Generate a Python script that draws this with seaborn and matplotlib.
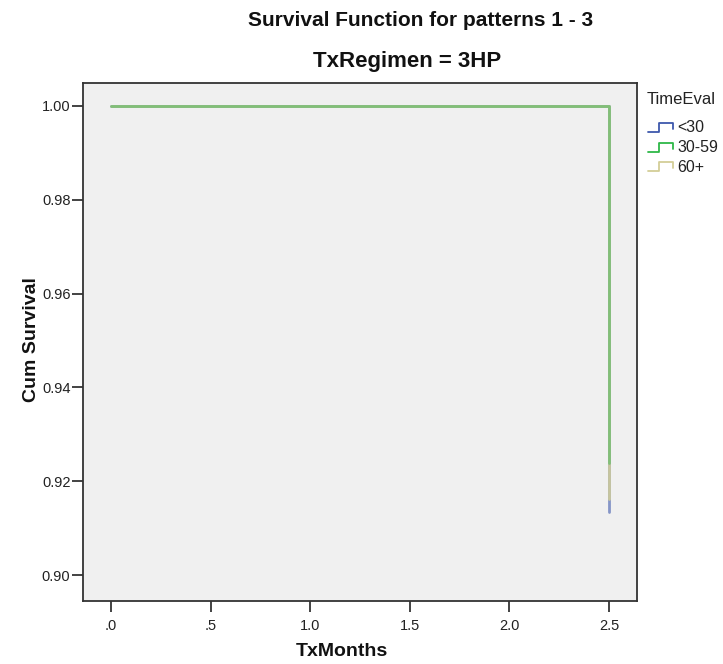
import numpy as np
import pandas as pd
import seaborn as sns
import matplotlib
matplotlib.use("Agg")
import matplotlib.pyplot as plt
from matplotlib.lines import Line2D

# Kaplan-Meier step data per TimeEval group
groups = ["<30", "30-59", "60+"]
start_time = 0.0
event_times = [2.5, 2.5, 2.5]
final_survival = [0.9134, 0.9239, 0.9162]
colors = ["#3E58AC", "#2EB848", "#D3CE97"]
line_alpha = {"<30": 0.6, "30-59": 0.45, "60+": 0.85}
draw_order = ["<30", "60+", "30-59"]

x_ticks = [0.0, 0.5, 1.0, 1.5, 2.0, 2.5]
x_tick_labels = [".0", ".5", "1.0", "1.5", "2.0", "2.5"]
y_ticks = [0.90, 0.92, 0.94, 0.96, 0.98, 1.00]
y_tick_labels = ["0.90", "0.92", "0.94", "0.96", "0.98", "1.00"]

rows = []
for g, t, s in zip(groups, event_times, final_survival):
    rows += [(g, start_time, 1.0), (g, t, 1.0), (g, t, s)]
df = pd.DataFrame(rows, columns=["TimeEval", "TxMonths", "Cum Survival"])
palette = dict(zip(groups, colors))

sns.set_theme(style="white")
plt.rcParams["font.family"] = ["Liberation Sans", "DejaVu Sans"]

W, H = 723, 664
fig = plt.figure(figsize=(W / 100, H / 100), dpi=100)
fig.patch.set_facecolor("white")
ax = fig.add_axes([83 / W, 1 - 601 / H, (637 - 83) / W, (601 - 83) / H])
ax.set_facecolor("#f0f0f0")

for i, g in enumerate(draw_order):
    sub = df[df["TimeEval"] == g]
    sns.lineplot(data=sub, x="TxMonths", y="Cum Survival", color=palette[g],
                 estimator=None, sort=False, drawstyle="steps-post",
                 linewidth=2.0, alpha=line_alpha[g], ax=ax, legend=False,
                 zorder=3 + i)

ax.set_xlim(-0.1406, 2.6406)
ax.set_ylim(0.89446, 1.0049)
ax.set_xticks(x_ticks)
ax.set_xticklabels(x_tick_labels)
ax.set_yticks(y_ticks)
ax.set_yticklabels(y_tick_labels)
ax.tick_params(axis="both", direction="out", length=8, width=1.2, color="#222222",
               labelsize=10.5, labelcolor="#222222", bottom=True, left=True)
ax.tick_params(axis="x", pad=5)
ax.tick_params(axis="y", pad=1)
for sp in ax.spines.values():
    sp.set_visible(True)
    sp.set_color("#333333")
    sp.set_linewidth(1.3)

ax.set_xlabel("")
ax.set_ylabel("")
fig.text(342 / W, 1 - 652 / H, "TxMonths", ha="center", va="center",
         fontsize=14, fontweight="bold", color="#111111")
fig.text(31 / W, 1 - 340 / H, "Cum Survival", ha="center", va="center",
         rotation=90, fontsize=14, fontweight="bold", color="#111111")
fig.text(421 / W, 1 - 20 / H, "Survival Function for patterns 1 - 3", ha="center",
         va="center", fontsize=15, fontweight="bold", color="#111111")
fig.text(407 / W, 1 - 62 / H, "TxRegimen = 3HP", ha="center", va="center",
         fontsize=16, fontweight="bold", color="#111111")

# Legend with step-shaped keys, laid out in pixel coordinates
fig.text(647 / W, 1 - 99 / H, "TimeEval", ha="left", va="center",
         fontsize=12, color="#222222")
row_y = [128, 148, 167]
for g, c, y in zip(groups, colors, row_y):
    xs = np.array([648, 659, 659, 673, 673])
    ys = np.array([y + 4, y + 4, y - 5, y - 5, y + 1])
    fig.add_artist(Line2D(xs / W, 1 - ys / H, color=c, linewidth=1.3,
                          transform=fig.transFigure))
    fig.text(677 / W, 1 - y / H, g, ha="left", va="center",
             fontsize=11.5, color="#222222")

fig.savefig("out.png", dpi=100, facecolor="white")
